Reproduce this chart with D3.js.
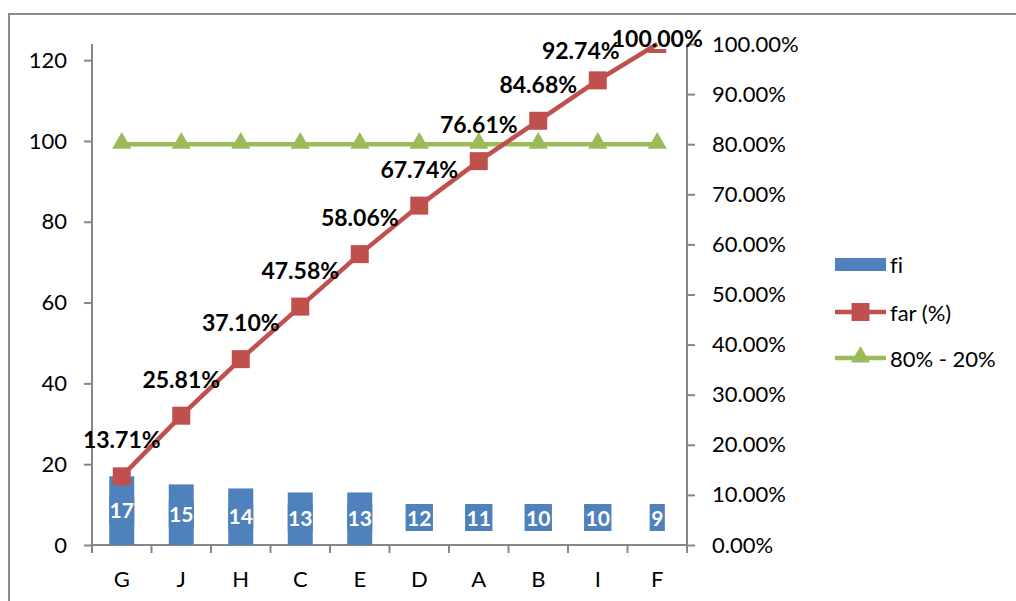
<!DOCTYPE html>
<html>
<head>
<meta charset="utf-8">
<script src="https://cdn.jsdelivr.net/npm/d3@7"></script>
<style>
  html, body { margin: 0; padding: 0; background: #fff; }
  svg { display: block; font-family: Lato, "Open Sans", sans-serif; font-variant-ligatures: none; font-feature-settings: "liga" 0; }
</style>
</head>
<body>
<svg id="chart" width="1016" height="601"></svg>
<script>
// ---- data ----
const categories = ["G", "J", "H", "C", "E", "D", "A", "B", "I", "F"];
const fi = [17, 15, 14, 13, 13, 12, 11, 10, 10, 9];
// bars actually drawn in the picture (D..F show only their labels)
const fiBarShown = [true, true, true, true, true, false, false, false, false, false];
const farCount = [17, 32, 46, 59, 72, 84, 95, 105, 115, 124];
const farLabels = ["13.71%", "25.81%", "37.10%", "47.58%", "58.06%", "67.74%", "76.61%", "84.68%", "92.74%", "100.00%"];
const ref8020 = [0.8, 0.8, 0.8, 0.8, 0.8, 0.8, 0.8, 0.8, 0.8, 0.8];
const leftTicks = [0, 20, 40, 60, 80, 100, 120];
const rightTicks = [0, 0.1, 0.2, 0.3, 0.4, 0.5, 0.6, 0.7, 0.8, 0.9, 1.0];
const legendLabels = ["fi", "far (%)", "80% - 20%"];

// ---- styles ----
const BLUE = "#4F81BD", RED = "#C0504D", GREEN = "#9BBB59", AXIS = "#868686";

const svg = d3.select("#chart");
const L = 92, R = 687, B = 545, T = 44;

// outer border
svg.append("path").attr("d", `M9,601 L9,14 L1016,14`)
  .attr("fill", "none").attr("stroke", "#8c8c8c").attr("stroke-width", 2);

const x = d3.scaleBand().domain(categories).range([L, R]).padding(0);
const yL = d3.scaleLinear().domain([0, 124]).range([B, T]);
const yR = d3.scaleLinear().domain([0, 1]).range([B, T]);
const cx = c => x(c) + x.bandwidth() / 2;

// axes
const axL = svg.append("g").attr("transform", `translate(${L},0)`)
  .call(d3.axisLeft(yL).tickValues(leftTicks).tickSize(8).tickSizeOuter(0).tickPadding(17));
const axR = svg.append("g").attr("transform", `translate(${R},0)`)
  .call(d3.axisRight(yR).tickValues(rightTicks).tickSize(8).tickSizeOuter(0).tickPadding(17).tickFormat(d3.format(".2%")));
const axB = svg.append("g").attr("transform", `translate(0,${B})`)
  .call(d3.axisBottom(x).tickSize(0).tickPadding(26));
// x ticks on band boundaries
axB.selectAll(".bt").data(d3.range(categories.length + 1)).enter().append("line")
  .attr("x1", i => L + i * x.bandwidth()).attr("x2", i => L + i * x.bandwidth())
  .attr("y1", 0).attr("y2", 8).attr("stroke", AXIS).attr("stroke-width", 2);

[axL, axR, axB].forEach(a => {
  a.select(".domain").attr("stroke", AXIS).attr("stroke-width", 2);
  a.selectAll(".tick line").attr("stroke", AXIS).attr("stroke-width", 2);
  a.selectAll("text").attr("fill", "#000").style("font-size", "22px").style("font-family", "Lato, sans-serif");
});
axL.select(".domain").attr("d", `M0,${B}V${T}`);
axR.select(".domain").attr("d", `M0,${B}V${T}`);
axB.select(".domain").attr("d", `M${L},0H${R}`);

// bars
const bw = 25;
svg.append("g").selectAll("rect").data(categories.map((c, i) => ({c, v: fi[i], show: fiBarShown[i]})).filter(d => d.show))
  .enter().append("rect")
  .attr("x", d => cx(d.c) - bw / 2).attr("width", bw)
  .attr("y", d => yL(d.v)).attr("height", d => B - yL(d.v))
  .attr("fill", BLUE);

// bar labels with blue background boxes
const bl = svg.append("g");
categories.forEach((c, i) => {
  const cy = Math.min((yL(fi[i]) + B) / 2 - 1, B - 28);
  const g = bl.append("g");
  const t = g.append("text").attr("x", cx(c)).attr("y", cy).attr("text-anchor", "middle")
    .attr("dominant-baseline", "central").attr("fill", "#fff")
    .style("font-size", "21px").style("font-weight", "bold").text(fi[i]);
  const bb = t.node().getBBox();
  const w = fiBarShown[i] ? Math.min(bb.width + 3, bw) : bb.width + 3;
  g.insert("rect", "text").attr("x", cx(c) - w / 2).attr("y", cy - 13).attr("width", w).attr("height", 27).attr("fill", BLUE);
});

// 80% reference line
const lineR = d3.line().x((d, i) => cx(categories[i])).y(d => yR(d));
svg.append("path").datum(ref8020).attr("d", lineR).attr("fill", "none")
  .attr("stroke", GREEN).attr("stroke-width", 4.5);
const tri = d3.symbol().type(d3.symbolTriangle).size(160);
svg.append("g").selectAll("path").data(ref8020).enter().append("path")
  .attr("d", tri).attr("transform", (d, i) => `translate(${cx(categories[i])},${yR(d) - 1})`)
  .attr("fill", GREEN);

// cumulative line
const lineL = d3.line().x((d, i) => cx(categories[i])).y(d => yL(d));
svg.append("path").datum(farCount).attr("d", lineL).attr("fill", "none")
  .attr("stroke", RED).attr("stroke-width", 4.5);
svg.append("defs").append("clipPath").attr("id", "plotclip").append("rect")
  .attr("x", L).attr("y", T + 5).attr("width", R - L).attr("height", B - T - 5);
const sq = 18;
svg.append("g").attr("clip-path", "url(#plotclip)").selectAll("rect").data(farCount).enter().append("rect")
  .attr("x", (d, i) => cx(categories[i]) - sq / 2).attr("y", d => yL(d) - sq / 2)
  .attr("width", sq).attr("height", sq).attr("fill", RED);

// cumulative % labels (two were moved by hand in the original)
const adj = {8: [-17, 7], 9: [0, 31]};
svg.append("g").selectAll("text").data(farLabels).enter().append("text")
  .attr("x", (d, i) => cx(categories[i]) + (adj[i] ? adj[i][0] : 0))
  .attr("y", (d, i) => yL(farCount[i]) - 37 + (adj[i] ? adj[i][1] : 0))
  .attr("text-anchor", "middle").attr("dominant-baseline", "central")
  .style("font-size", "23px").style("font-weight", "bold").attr("fill", "#000")
  .text(d => d);

// legend
const lg = svg.append("g");
const lx0 = 835, lx1 = 886, tx = 890;
const ly = [264, 312, 358];
lg.append("rect").attr("x", lx0).attr("y", ly[0] - 6).attr("width", lx1 - lx0).attr("height", 13).attr("fill", BLUE);
lg.append("line").attr("x1", lx0).attr("x2", lx1).attr("y1", ly[1]).attr("y2", ly[1]).attr("stroke", RED).attr("stroke-width", 4.5);
lg.append("rect").attr("x", (lx0 + lx1) / 2 - sq / 2).attr("y", ly[1] - sq / 2).attr("width", sq).attr("height", sq).attr("fill", RED);
lg.append("line").attr("x1", lx0).attr("x2", lx1).attr("y1", ly[2]).attr("y2", ly[2]).attr("stroke", GREEN).attr("stroke-width", 4.5);
lg.append("path").attr("d", tri).attr("transform", `translate(${(lx0 + lx1) / 2},${ly[2] - 1})`).attr("fill", GREEN);
lg.selectAll("text").data(legendLabels).enter().append("text")
  .attr("x", tx).attr("y", (d, i) => ly[i]).attr("dominant-baseline", "central")
  .style("font-size", "22px").attr("fill", "#000").text(d => d);
</script>
</body>
</html>
